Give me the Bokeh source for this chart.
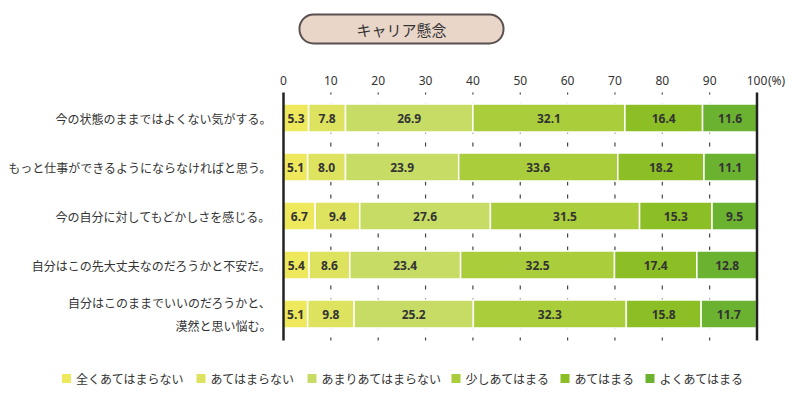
from bokeh.plotting import figure
from bokeh.models import ColumnDataSource, Range1d, BoxAnnotation, Label
from bokeh.core.properties import value
from bokeh.embed import file_html
from bokeh.resources import INLINE

# ---- data ----
title = "キャリア懸念"
questions = [
    "今の状態のままではよくない気がする。",
    "もっと仕事ができるようにならなければと思う。",
    "今の自分に対してもどかしさを感じる。",
    "自分はこの先大丈夫なのだろうかと不安だ。",
    "自分はこのままでいいのだろうかと、\n漠然と思い悩む。",
]
series_names = ["全くあてはまらない", "あてはまらない", "あまりあてはまらない",
                "少しあてはまる", "あてはまる", "よくあてはまる"]
s1 = [5.3, 5.1, 6.7, 5.4, 5.1]
s2 = [7.8, 8.0, 9.4, 8.6, 9.8]
s3 = [26.9, 23.9, 27.6, 23.4, 25.2]
s4 = [32.1, 33.6, 31.5, 32.5, 32.3]
s5 = [16.4, 18.2, 15.3, 17.4, 15.8]
s6 = [11.6, 11.1, 9.5, 12.8, 11.7]
ticks = [0, 10, 20, 30, 40, 50, 60, 70, 80, 90, 100]
unit_label = "(%)"

series = [s1, s2, s3, s4, s5, s6]
colors = ["#eee85c", "#dde35f", "#c6dc65", "#aacd3b", "#8cbf25", "#6cb231"]

# ---- layout ----
W, H = 800, 397
PX0 = 283.0          # canvas x of value 0
PXU = 4.735          # pixels per percent
def px_to_x(px):
    return (px - PX0) / PXU

row_y = [117.5 + 49 * i for i in range(len(questions))]   # canvas y (top = 0)
bar_h = 28

p = figure(width=W, height=H, output_backend="svg", toolbar_location=None,
           x_range=Range1d(px_to_x(0), px_to_x(W)), y_range=Range1d(H, 0),
           min_border=0, outline_line_color=None)
p.axis.visible = False
p.grid.visible = False
p.background_fill_color = "white"
p.border_fill_color = "white"

jp = value("Noto Sans CJK JP")
num_font = value("Noto Sans")

# dashed grid lines
grid_top, grid_bot = 92, 340
gx = [t for t in ticks if 0 < t < 100]
p.segment(x0=gx, x1=gx, y0=[grid_top] * len(gx), y1=[grid_bot] * len(gx),
          line_color="#444444", line_width=1.2, line_dash="4 9", line_dash_offset=2)

# stacked bars
left = [0.0] * len(questions)
for vals, col, name in zip(series, colors, series_names):
    right = [l + v for l, v in zip(left, vals)]
    src = ColumnDataSource(dict(y=row_y, left=left, right=right,
                                mid=[(l + r) / 2 for l, r in zip(left, right)],
                                lab=[f"{v:.1f}" for v in vals]))
    p.hbar(y="y", left="left", right="right", height=bar_h, source=src,
           fill_color=col, line_color="white", line_width=1.5)
    p.text(x="mid", y="y", text="lab", source=src, text_align="center",
           text_baseline="middle", text_font=num_font, text_font_size="12px",
           text_font_style="bold", text_color="#333333")
    left = right

# axis boundary lines at 0 and 100
p.segment(x0=[0, 100], x1=[0, 100], y0=[grid_top] * 2, y1=[grid_bot] * 2,
          line_color="#222222", line_width=2.5)

# tick labels
p.text(x=ticks, y=[80] * len(ticks), text=[str(t) for t in ticks],
       text_align="center", text_baseline="middle", text_font=num_font,
       text_font_size="12px", text_color="#333333")
p.text(x=[100], y=[80], text=[unit_label], x_offset=11, text_align="left",
       text_baseline="middle", text_font=num_font, text_font_size="12px",
       text_color="#333333")

# category labels
p.text(x=[0] * len(questions), y=row_y, text=questions, x_offset=-12,
       text_align="right", text_baseline="middle", text_font=jp,
       text_font_size="12px", text_color="#333333", text_line_height=1.4)

# legend
leg_px = [61.5, 196, 307, 451, 560, 645]
leg_y = 378
p.rect(x=[px_to_x(a + 4.5) for a in leg_px], y=[leg_y] * 6, width=9, height=9,
       width_units="screen", height_units="screen", fill_color=colors,
       line_color=None)
p.text(x=[px_to_x(a + 14) for a in leg_px], y=[leg_y] * 6, text=series_names,
       text_align="left", text_baseline="middle", text_font=jp,
       text_font_size="12px", text_color="#333333")

# title pill
p.add_layout(BoxAnnotation(left=px_to_x(299), right=px_to_x(503), top=14, bottom=43,
                           fill_color="#e9d6c9", fill_alpha=1.0,
                           line_color="#5a5050", line_alpha=1.0, line_width=2,
                           border_radius=14))
p.add_layout(Label(x=px_to_x(401), y=28.5, text=title, text_align="center",
                   text_baseline="middle", text_font="Noto Sans CJK JP",
                   text_font_size="15px", text_color="#333333"))

open("out.html", "w").write(file_html(p, INLINE))
